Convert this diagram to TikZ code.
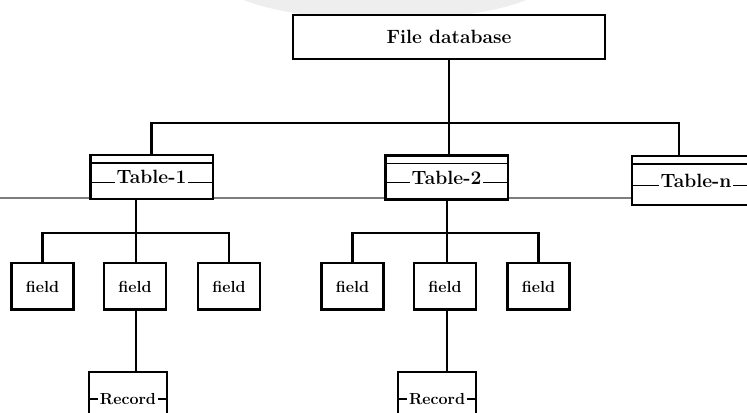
\documentclass[tikz,border=0pt]{standalone}
\usepackage{tikz}
\usetikzlibrary{positioning, calc}
\definecolor{gray1}{RGB}{125,125,125}
\definecolor{haze}{RGB}{238,238,238}
\setlength{\fboxsep}{1.5pt}
\newcommand{\lbl}[1]{\colorbox{white}{#1}}

\begin{document}
\begin{tikzpicture}[
  x=0.75pt, y=-0.75pt,
  link/.style={line width=2.2pt},
  box/.style={rectangle, draw, line width=2pt, fill=white,
              inner sep=0pt, font=\bfseries},
  dbbox/.style={box, minimum width=234pt, minimum height=33pt,
                font=\Large\bfseries},
  tablebox/.style={box, minimum width=92pt, minimum height=33pt,
                   font=\Large\bfseries, path picture={
      \draw[line width=0.8pt]
        ([yshift=-6pt]path picture bounding box.north west) --
        ([yshift=-6pt]path picture bounding box.north east);
      \draw[line width=1pt]
        ([yshift=-4pt]path picture bounding box.west) --
        ([yshift=-4pt]path picture bounding box.east);}},
  fieldbox/.style={box, minimum width=46.5pt, minimum height=35pt,
                   font=\large\bfseries},
  recbox/.style={box, minimum width=58.5pt, minimum height=40.5pt,
                 font=\large\bfseries, path picture={
      \draw[line width=0.8pt]
        (path picture bounding box.west) --
        (path picture bounding box.east);}},
]
\useasboundingbox (0,0) rectangle (747,413);

% faint shade and rule behind the tables
\fill[haze] (385,-25) ellipse [x radius=170, y radius=45];
\draw[gray1, line width=1.5pt] (0,198) -- (632,198);

\node[dbbox] (db) at (449,37) {File database};

\node[tablebox] (t1) at (151.5,177) {\lbl{Table-1}};
\node[tablebox] (t2) at (446.5,177.5) {\lbl{Table-2}};
\node[tablebox, minimum width=96pt, minimum height=36.75pt]
  (tn) at (696,180.5) {\lbl{Table-n}};

\node[fieldbox] (f1) at (42.5,286.5) {field};
\node[fieldbox] (f2) at (135,286.5)  {field};
\node[fieldbox] (f3) at (229,286.5)  {field};
\node[fieldbox] (f4) at (352.5,286.5) {field};
\node[fieldbox] (f5) at (445,286.5)  {field};
\node[fieldbox] (f6) at (538.5,286.5) {field};

\node[recbox] (r1) at (128,399) {\lbl{Record}};
\node[recbox] (r2) at (437,399) {\lbl{Record}};

\coordinate (hub)  at (449,123);
\coordinate (busA) at (136,233);
\coordinate (busB) at (447,233);
\coordinate (tnj)  at ($(tn.north west)!0.37!(tn.north east)$);

\draw[link] (db.south) -- (db.south |- t2.north);
\draw[link] (t1.north) |- (hub) -| (tnj);

\draw[link] (t1.south -| busA) -- (f2.north -| busA);
\draw[link] (f1.north) |- (busA) -| (f3.north);
\draw[link] (t2.south -| busB) -- (f5.north -| busB);
\draw[link] (f4.north) |- (busB) -| (f6.north);

\draw[link] (f2.south -| busA) -- (r1.north -| busA);
\draw[link] (f5.south -| busB) -- (r2.north -| busB);

\end{tikzpicture}
\end{document}
